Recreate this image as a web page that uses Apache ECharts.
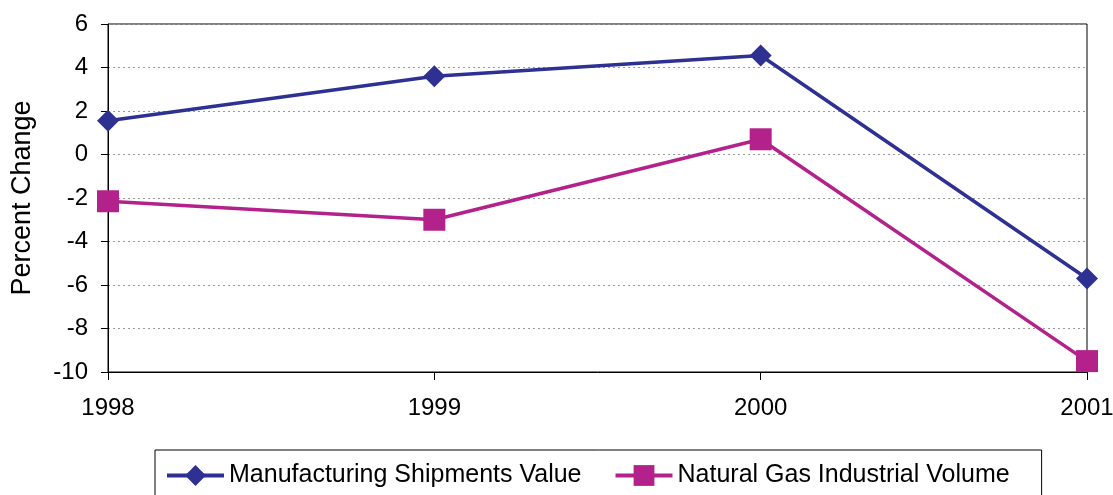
<!DOCTYPE html>
<html>
<head>
<meta charset="utf-8">
<script src="https://cdn.jsdelivr.net/npm/echarts@6/dist/echarts.min.js"></script>
<style>
  html, body { margin: 0; padding: 0; background: #fff; }
  #chart { width: 1113px; height: 495px; }
</style>
</head>
<body>
<div id="chart"></div>
<script>
var years = ['1998', '1999', '2000', '2001'];
var manufacturing = [1.55, 3.6, 4.55, -5.7];
var naturalGas = [-2.15, -3.0, 0.7, -9.5];

var chart = echarts.init(document.getElementById('chart'));
var fontFamily = '"Liberation Sans", Arial, sans-serif';

chart.setOption({
    animation: false,
    backgroundColor: '#fff',
    grid: {
        left: 108,
        right: 26,
        top: 24,
        bottom: 123,
        show: true,
        borderColor: '#000',
        borderWidth: 1,
        outerBoundsMode: 'none'
    },
    legend: {
        left: 155,
        top: 450,
        padding: [13, 32, 30, 10],
        borderColor: '#000',
        borderWidth: 1,
        itemWidth: 57,
        itemHeight: 26,
        itemGap: 32,
        lineStyle: { width: 4 },
        textStyle: { fontFamily: fontFamily, fontSize: 25, color: '#000' },
        data: ['Manufacturing Shipments Value', 'Natural Gas Industrial Volume']
    },
    xAxis: {
        type: 'category',
        data: years,
        boundaryGap: false,
        axisLine: { onZero: false, lineStyle: { color: '#000', width: 1 } },
        axisTick: { show: true, length: 8, alignWithLabel: true, lineStyle: { color: '#000' } },
        axisLabel: { fontFamily: fontFamily, fontSize: 24, color: '#000', margin: 24 }
    },
    yAxis: {
        type: 'value',
        min: -10,
        max: 6,
        interval: 2,
        name: 'Percent Change',
        nameLocation: 'middle',
        nameGap: 72,
        nameTextStyle: { fontFamily: fontFamily, fontSize: 27, color: '#000' },
        axisLine: { show: true, lineStyle: { color: '#000', width: 1 } },
        axisTick: { show: true, length: 7, lineStyle: { color: '#000' } },
        axisLabel: { fontFamily: fontFamily, fontSize: 24, color: '#000', margin: 20 },
        splitLine: { show: true, lineStyle: { color: '#999', type: [2, 3], width: 1 } }
    },
    series: [{
        name: 'Manufacturing Shipments Value',
        type: 'line',
        data: manufacturing,
        color: '#2E3192',
        symbol: 'diamond',
        symbolSize: 22,
        lineStyle: { width: 3.5 },
        itemStyle: { color: '#2E3192' },
        z: 3
    }, {
        name: 'Natural Gas Industrial Volume',
        type: 'line',
        data: naturalGas,
        color: '#B3228B',
        symbol: 'rect',
        symbolSize: 22,
        lineStyle: { width: 3.5 },
        itemStyle: { color: '#B3228B' },
        z: 2
    }]
});
</script>
</body>
</html>
